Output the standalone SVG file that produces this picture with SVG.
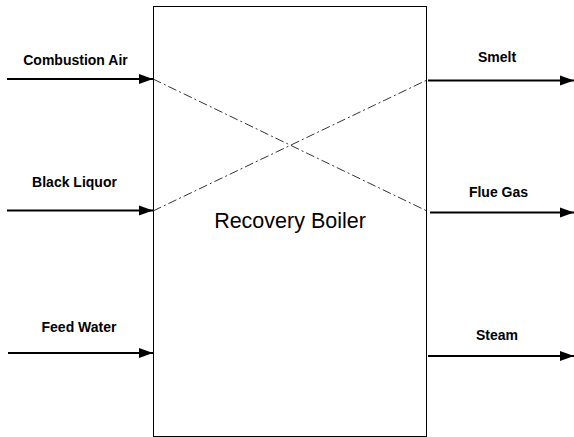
<svg xmlns="http://www.w3.org/2000/svg" width="574" height="437" viewBox="0 0 574 437">
  <style>
    .box { fill: #ffffff; stroke: #000000; stroke-width: 1; }
    .flow { stroke: #000000; stroke-width: 2; fill: none; marker-end: url(#head); }
    .cross { stroke: #000000; stroke-width: 0.8; fill: none; stroke-dasharray: 9 3 2 3; }
    .lbl { font-family: "Liberation Sans", Arial, sans-serif; font-weight: bold; font-size: 14px; fill: #000000; text-anchor: middle; }
    .title { font-family: "Liberation Sans", Arial, sans-serif; font-size: 21.5px; fill: #000000; text-anchor: middle; }
  </style>
  <defs>
    <marker id="head" markerUnits="userSpaceOnUse" markerWidth="16" markerHeight="12" refX="14" refY="6" orient="auto">
      <path d="M0,1 L14,6 L0,11 Z" fill="#000000"/>
    </marker>
  </defs>

  <g id="boiler">
    <rect class="box" x="153.5" y="6.5" width="273" height="430"/>
    <text class="title" x="290" y="228">Recovery Boiler</text>
  </g>

  <g id="connectors">
    <line class="cross" x1="153" y1="79" x2="427" y2="211"/>
    <line class="cross" x1="153" y1="211" x2="427" y2="80"/>
    <line class="flow" x1="7" y1="79" x2="153" y2="79"/>
    <line class="flow" x1="7" y1="210.5" x2="153" y2="210.5"/>
    <line class="flow" x1="8" y1="353" x2="153" y2="353"/>
    <line class="flow" x1="428" y1="80.5" x2="574" y2="80.5"/>
    <line class="flow" x1="430" y1="212.5" x2="574" y2="212.5"/>
    <line class="flow" x1="428" y1="356" x2="574" y2="356"/>
  </g>

  <g id="combustion-air"><text class="lbl" x="75.5" y="65">Combustion Air</text></g>
  <g id="black-liquor"><text class="lbl" x="74.5" y="187">Black Liquor</text></g>
  <g id="feed-water"><text class="lbl" x="79" y="332">Feed Water</text></g>
  <g id="smelt"><text class="lbl" x="497" y="62">Smelt</text></g>
  <g id="flue-gas"><text class="lbl" x="498.5" y="197">Flue Gas</text></g>
  <g id="steam"><text class="lbl" x="497" y="340">Steam</text></g>
</svg>
